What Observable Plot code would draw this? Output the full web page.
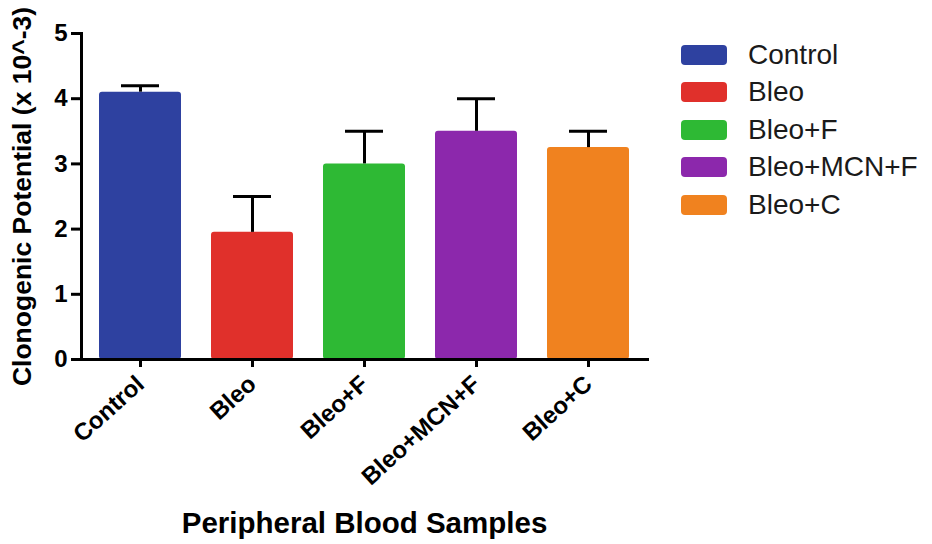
<!DOCTYPE html>
<html>
<head>
<meta charset="utf-8">
<script src="https://cdn.jsdelivr.net/npm/d3@7"></script>
<script src="https://cdn.jsdelivr.net/npm/@observablehq/plot@0.6"></script>
<style>
  html, body { margin: 0; padding: 0; background: #fff; }
  #wrap { position: relative; width: 932px; height: 544px; overflow: hidden; }
  #legend { position: absolute; left: 681px; top: 36px; font-family: "Liberation Sans", Arial, sans-serif; font-size: 28px; color: #1a1a1a; }
  .row { display: flex; align-items: center; height: 37.5px; }
  .sw { width: 46px; height: 20px; border-radius: 4px; margin-right: 21px; }
</style>
</head>
<body>
<div id="wrap"><div id="legend"></div></div>
<script>
const categories = ["Control", "Bleo", "Bleo+F", "Bleo+MCN+F", "Bleo+C"];
const means = [4.1, 1.95, 3.0, 3.5, 3.25];
const upperErrors = [0.1, 0.55, 0.5, 0.5, 0.25];
const colors = ["#2e41a0", "#e0302b", "#2eb934", "#8c28ac", "#f0821f"];
const yTicks = [0, 1, 2, 3, 4, 5];
const yTitle = "Clonogenic Potential (x 10^-3)";
const xTitle = "Peripheral Blood Samples";

const data = categories.map((c, i) => ({cat: c, mean: means[i], top: means[i] + upperErrors[i]}));

const chart = Plot.plot({
  width: 932,
  height: 544,
  marginLeft: 81,
  marginRight: 285,
  marginTop: 33,
  marginBottom: 185,
  style: {fontFamily: "'Liberation Sans', Arial, sans-serif", fontWeight: "bold", color: "#000", background: "transparent"},
  x: {domain: categories, paddingInner: 0.271, paddingOuter: 0.145},
  y: {domain: [0, 5]},
  color: {domain: categories, range: colors},
  marks: [
    Plot.barY(data, {x: "cat", y: "mean", fill: "cat", rx: 3}),
    Plot.ruleX(data, {x: "cat", y1: "mean", y2: "top", stroke: "#000", strokeWidth: 3}),
    Plot.tickY(data, {x: "cat", y: "top", stroke: "#000", strokeWidth: 3, insetLeft: 22, insetRight: 22}),
    Plot.frame({anchor: "left", stroke: "#000", strokeWidth: 3}),
    Plot.frame({anchor: "bottom", stroke: "#000", strokeWidth: 3}),
    Plot.axisY({ticks: yTicks, tickFormat: d => String(d), tickSize: 10, tickPadding: 4, fontSize: 24, fontWeight: "bold", strokeWidth: 3, label: null}),
    Plot.axisX({tickRotate: -42, tickSize: 8, tickPadding: 13, fontSize: 24, fontWeight: "bold", strokeWidth: 3, label: null}),
    Plot.text([yTitle], {frameAnchor: "left", textAnchor: "middle", rotate: -90, dx: -59, fontSize: 26.5, fontWeight: "bold", fill: "#000"}),
    Plot.text([xTitle], {frameAnchor: "bottom", textAnchor: "middle", dy: 173, fontSize: 29.5, fontWeight: "bold", fill: "#000"})
  ]
});
document.getElementById("wrap").prepend(chart);

const legend = document.getElementById("legend");
categories.forEach((c, i) => {
  const row = document.createElement("div");
  row.className = "row";
  const sw = document.createElement("div");
  sw.className = "sw";
  sw.style.background = colors[i];
  const t = document.createElement("span");
  t.textContent = c;
  row.appendChild(sw);
  row.appendChild(t);
  legend.appendChild(row);
});
</script>
</body>
</html>
